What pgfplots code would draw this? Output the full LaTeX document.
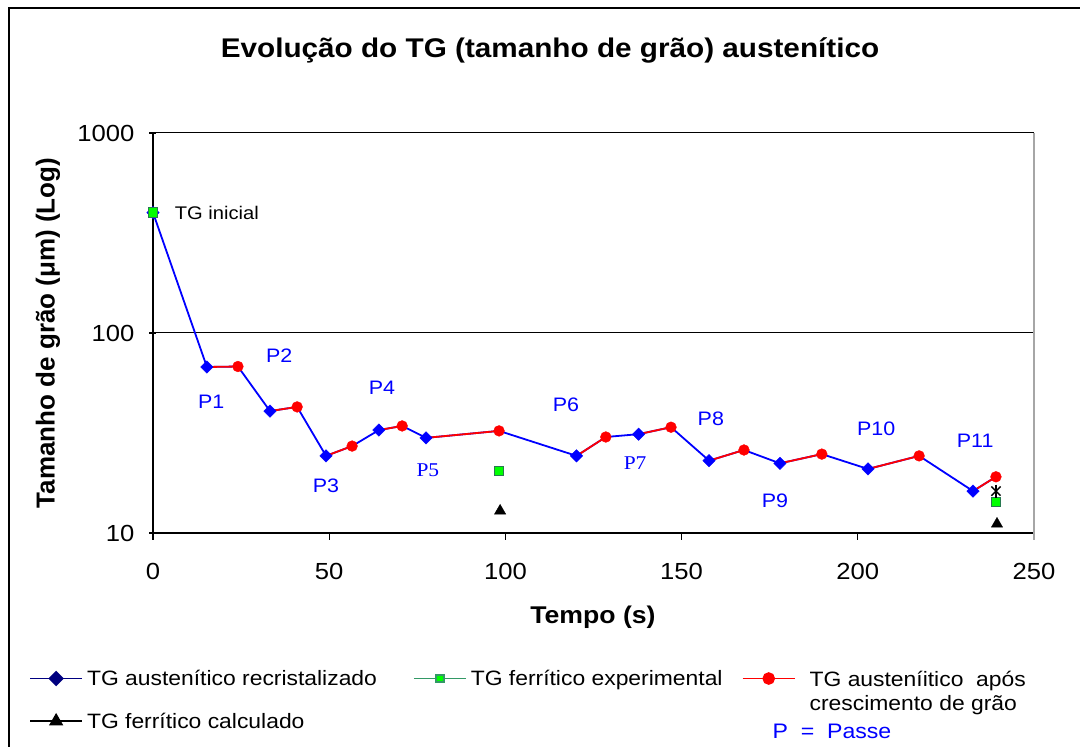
\documentclass[border=0pt]{standalone}
\usepackage{fontspec}
\setmainfont{Liberation Sans}[FakeStretch=1.1]
\newfontfamily\ylabfont{Liberation Sans}
\newfontfamily\serifP{Liberation Serif}[FakeStretch=1.1]
\usepackage{pgfplots}
\pgfplotsset{compat=1.18}
\definecolor{navy}{RGB}{0,0,128}
\definecolor{seagr}{RGB}{51,153,102}
\definecolor{dkgr}{RGB}{40,120,80}
\pgfplotsset{legend image code/.code={\draw[mark repeat=2,mark phase=2,#1] plot coordinates {(0pt,0pt) (26pt,0pt) (52pt,0pt)};}}
\begin{document}
\begin{tikzpicture}[x=1pt,y=1pt]
\useasboundingbox (0,0) rectangle (1080,747);
\fill[white] (0,0) rectangle (1080,747);
\draw[line width=2pt] (9,-20) rectangle (1100,739);
\node[font=\bfseries\fontsize{27}{32}\selectfont] at (550,697) {Evolução do TG (tamanho de grão) austenítico};
\node[font=\bfseries\fontsize{24.2}{29}\selectfont] at (593,130) {Tempo (s)};
\node[rotate=90, font=\ylabfont\bfseries\fontsize{26}{30}\selectfont] at (48,414) {Tamanho de grão (μm) (Log)};
\begin{axis}[
  at={(153pt,214pt)}, anchor=south west,
  scale only axis, width=881pt, height=400pt,
  xmin=0, xmax=250, ymin=10, ymax=1000, ymode=log,
  xtick={0,50,100,150,200,250},
  ytick={10,100,1000}, yticklabels={10,100,1000},
  yminorticks=false,
  axis x line*=bottom, axis y line*=left,
  axis line style={line width=1.5pt, -},
  ymajorgrids, grid style={black, line width=1pt},
  tick align=outside, major tick length=7pt,
  tick style={black, line width=1.2pt},
  ytick style={xshift=3.5pt},
  ticklabel style={font=\fontsize{23.3}{28}\selectfont},
  xticklabel style={yshift=-20pt},
  yticklabel style={xshift=-8pt},
  /pgf/number format/assume math mode=true,
  clip=false,
  legend columns=3,
  legend cell align=left,
  legend style={at={(axis description cs:-0.1407,-0.34)}, anchor=north west,
    draw=none, fill=none, inner sep=0pt, column sep=0pt, row sep=25pt,
    nodes={inner sep=0pt},
    font=\fontsize{20.8}{24.5}\selectfont},
]
% blue line through all points
\addplot[blue, line width=1.8pt, forget plot] coordinates {
(0,400) (15.3,67.6) (24.1,68) (33.2,40.7) (40.9,42.7) (49.1,24.3) (56.5,27.2)
(64.1,32.7) (70.7,34.3) (77.5,29.9) (98.2,32.4) (120.2,24.3) (128.5,30.2)
(137.8,31.2) (147.0,33.8) (157.8,23.0) (167.7,26.0) (177.9,22.3) (189.8,24.8)
(202.9,20.9) (217.4,24.3) (232.7,16.2) (239.2,19.1)};
% red segments (growth)
\addplot[red, line width=1.8pt, forget plot] coordinates {(15.3,67.6) (24.1,68)};
\addplot[red, line width=1.8pt, forget plot] coordinates {(33.2,40.7) (40.9,42.7)};
\addplot[red, line width=1.8pt, forget plot] coordinates {(49.1,24.3) (56.5,27.2)};
\addplot[red, line width=1.8pt, forget plot] coordinates {(64.1,32.7) (70.7,34.3)};
\addplot[red, line width=1.8pt, forget plot] coordinates {(77.5,29.9) (98.2,32.4)};
\addplot[red, line width=1.8pt, forget plot] coordinates {(120.2,24.3) (128.5,30.2)};
\addplot[red, line width=1.8pt, forget plot] coordinates {(137.8,31.2) (147.0,33.8)};
\addplot[red, line width=1.8pt, forget plot] coordinates {(157.8,23.0) (167.7,26.0)};
\addplot[red, line width=1.8pt, forget plot] coordinates {(177.9,22.3) (189.8,24.8)};
\addplot[red, line width=1.8pt, forget plot] coordinates {(202.9,20.9) (217.4,24.3)};
\addplot[red, line width=1.8pt, forget plot] coordinates {(232.7,16.2) (239.2,19.1)};
% blue diamonds
\addplot[only marks, mark=square*, mark size=4.4, mark options={rotate=45, fill=blue, draw=blue}, forget plot] coordinates {
(0,400) (15.3,67.6) (33.2,40.7) (49.1,24.3) (64.1,32.7) (77.5,29.9) (120.2,24.3)
(137.8,31.2) (157.8,23.0) (177.9,22.3) (202.9,20.9) (232.7,16.2)};
% red circles
\addplot[only marks, mark=*, mark size=5.4, mark options={fill=red, draw=red}, forget plot] coordinates {
(24.1,68) (40.9,42.7) (56.5,27.2) (70.7,34.3) (98.2,32.4) (128.5,30.2)
(147.0,33.8) (167.7,26.0) (189.8,24.8) (217.4,24.3) (239.2,19.1)};
% green experimental ferritic
\addplot[only marks, mark=square*, mark size=4.8, mark options={fill=green, draw=dkgr, line width=1pt}, forget plot] coordinates {
(0,400) (98.2,20.4) (239.2,14.3)};
% black calculated ferritic
\addplot[only marks, mark=triangle*, mark size=6.5, mark options={fill=black, draw=black}, forget plot] coordinates {
(98.5,12.9) (239.5,11.1)};
% star
\addplot[only marks, mark=x, mark size=6.5, mark options={draw=black, line width=1.4pt}, forget plot] coordinates {(239.2,16.2)};
\addplot[only marks, mark=|, mark size=6.5, mark options={draw=black, line width=1.4pt}, forget plot] coordinates {(239.2,16.2)};
% right border
\draw[gray!70, line width=1.5pt] (rel axis cs:1,1) -- (rel axis cs:1,0) -- ++(0pt,-7pt);
% labels
\node[anchor=west, font=\fontsize{18.3}{22}\selectfont] at (axis cs:5.2,400) {TG inicial};
\begin{scope}[every node/.style={text=blue, font=\fontsize{19.5}{23}\selectfont}]
\node at (axis cs:16.5,45.2) {P1};
\node at (axis cs:35.8,76.7) {P2};
\node at (axis cs:49.1,17.2) {P3};
\node at (axis cs:65.0,53.1) {P4};
\node[font=\serifP\fontsize{19.5}{23}\selectfont] at (axis cs:78.0,20.65) {P5};
\node at (axis cs:117.2,43.7) {P6};
\node[font=\serifP\fontsize{19.5}{23}\selectfont] at (axis cs:136.8,22.4) {P7};
\node at (axis cs:158.3,37.2) {P8};
\node at (axis cs:176.5,14.5) {P9};
\node at (axis cs:205.2,33.1) {P10};
\node at (axis cs:233.3,28.8) {P11};
\end{scope}
% legend
\addlegendimage{color=navy, line width=1.8pt, mark=square*, mark size=4.6, mark options={rotate=45, fill=navy, draw=navy}}
\addlegendentry{\makebox[330pt][l]{\hspace*{4pt}TG austenítico recristalizado}}
\addlegendimage{color=seagr, line width=1.8pt, mark=square*, mark size=3.8, mark options={fill=green, draw=seagr}}
\addlegendentry{\makebox[275pt][l]{\hspace*{4pt}TG ferrítico experimental}}
\addlegendimage{color=red, line width=1.8pt, mark=*, mark size=5.4, mark options={fill=red, draw=red}}
\addlegendentry{\hspace*{14pt}\raisebox{0pt}[\height][0pt]{\begin{tabular}[t]{@{}l@{}}TG austeníitico\ \ após\\crescimento de grão\end{tabular}}}
\addlegendimage{color=black, line width=1.8pt, mark=triangle*, mark size=6.5, mark options={fill=black}}
\addlegendentry{\hspace*{4pt}TG ferrítico calculado}
\end{axis}
\node[anchor=west, text=blue, font=\fontsize{21}{25}\selectfont] at (769,16) {P\ \ =\ \ Passe};
\end{tikzpicture}
\end{document}
